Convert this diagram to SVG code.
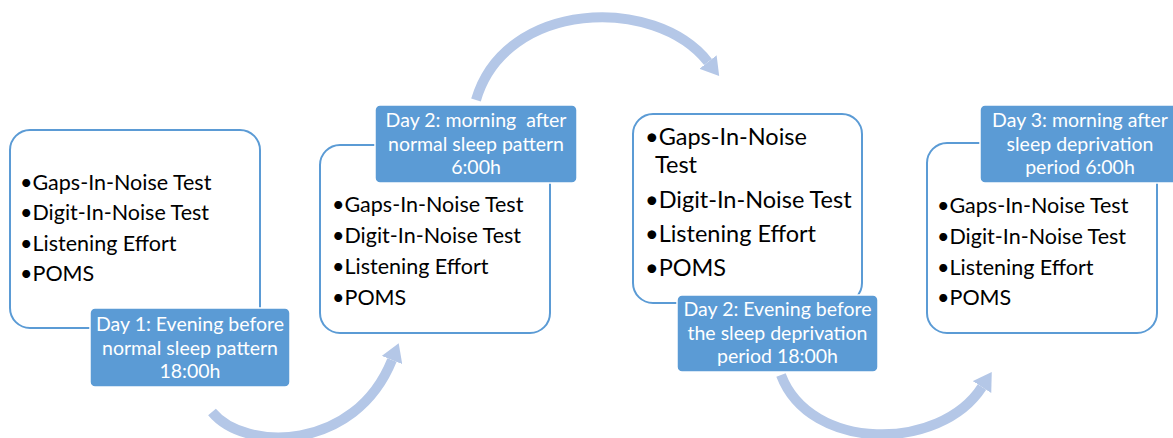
<svg xmlns="http://www.w3.org/2000/svg" width="1173" height="438" viewBox="0 0 1173 438">
<style>
.box{fill:#fff;stroke:#5b9bd5;stroke-width:2}
.lab{fill:#5b9bd5;stroke:#fff;stroke-width:1.5}
.body{font-family:Lato,"Open Sans",sans-serif;font-size:21.5px;fill:#000}
.big{font-size:23.5px}
.lt{font-family:Lato,"Open Sans",sans-serif;font-size:19.5px;fill:#fff;text-anchor:middle;white-space:pre}
.arc{fill:none;stroke:#b4c7e7;stroke-width:10}
</style>
<defs>
<marker id="ah" markerUnits="userSpaceOnUse" viewBox="0 0 18 22" refX="0" refY="11" markerWidth="18" markerHeight="22" orient="auto">
<path d="M0,0 L18,11 L0,22 z" fill="#b4c7e7"/>
</marker>
</defs>
<g id="connectors">
<path class="arc" d="M212,412 C245,452 355,452 392,360" marker-end="url(#ah)"/>
<path class="arc" d="M476,100 C505,0 655,-5 708,62" marker-end="url(#ah)"/>
<path class="arc" d="M781,375 C810,452 940,452 982,387" marker-end="url(#ah)"/>
</g>
<g id="node1">
<rect class="box" x="10" y="130" width="250" height="198" rx="20"/>
<text class="body" x="20" y="190">•Gaps-In-Noise Test</text>
<text class="body" x="20" y="220">•Digit-In-Noise Test</text>
<text class="body" x="20" y="251">•Listening Effort</text>
<text class="body" x="20" y="281">•POMS</text>
<rect class="lab" x="90" y="308" width="200" height="79" rx="5"/>
<text class="lt" x="190" y="331">Day 1: Evening before</text>
<text class="lt" x="190" y="355">normal sleep pattern</text>
<text class="lt" x="190" y="378">18:00h</text>
</g>
<g id="node2">
<rect class="box" x="320" y="145" width="230" height="188" rx="20"/>
<text class="body" x="332" y="212">•Gaps-In-Noise Test</text>
<text class="body" x="332" y="243">•Digit-In-Noise Test</text>
<text class="body" x="332" y="274">•Listening Effort</text>
<text class="body" x="332" y="305">•POMS</text>
<rect class="lab" x="375" y="105" width="202" height="78" rx="5"/>
<text class="lt" x="476" y="127">Day 2: morning  after</text>
<text class="lt" x="476" y="151">normal sleep pattern</text>
<text class="lt" x="476" y="174">6:00h</text>
</g>
<g id="node3">
<rect class="box" x="633" y="114" width="229" height="189" rx="20"/>
<text class="body big" x="645" y="145">•Gaps-In-Noise</text>
<text class="body big" x="655" y="173">Test</text>
<text class="body big" x="645" y="208">•Digit-In-Noise Test</text>
<text class="body big" x="645" y="242">•Listening Effort</text>
<text class="body big" x="645" y="276">•POMS</text>
<rect class="lab" x="677" y="295" width="201" height="77" rx="5"/>
<text class="lt" x="777.5" y="316">Day 2: Evening before</text>
<text class="lt" x="777.5" y="340">the sleep deprivation</text>
<text class="lt" x="777.5" y="363">period 18:00h</text>
</g>
<g id="node4">
<rect class="box" x="927" y="143" width="230" height="190" rx="20"/>
<text class="body" x="937" y="213">•Gaps-In-Noise Test</text>
<text class="body" x="937" y="244">•Digit-In-Noise Test</text>
<text class="body" x="937" y="275">•Listening Effort</text>
<text class="body" x="937" y="305">•POMS</text>
<rect class="lab" x="980" y="105" width="200" height="78" rx="5"/>
<text class="lt" x="1080" y="127">Day 3: morning after</text>
<text class="lt" x="1080" y="151">sleep deprivation</text>
<text class="lt" x="1080" y="174">period 6:00h</text>
</g>
</svg>
